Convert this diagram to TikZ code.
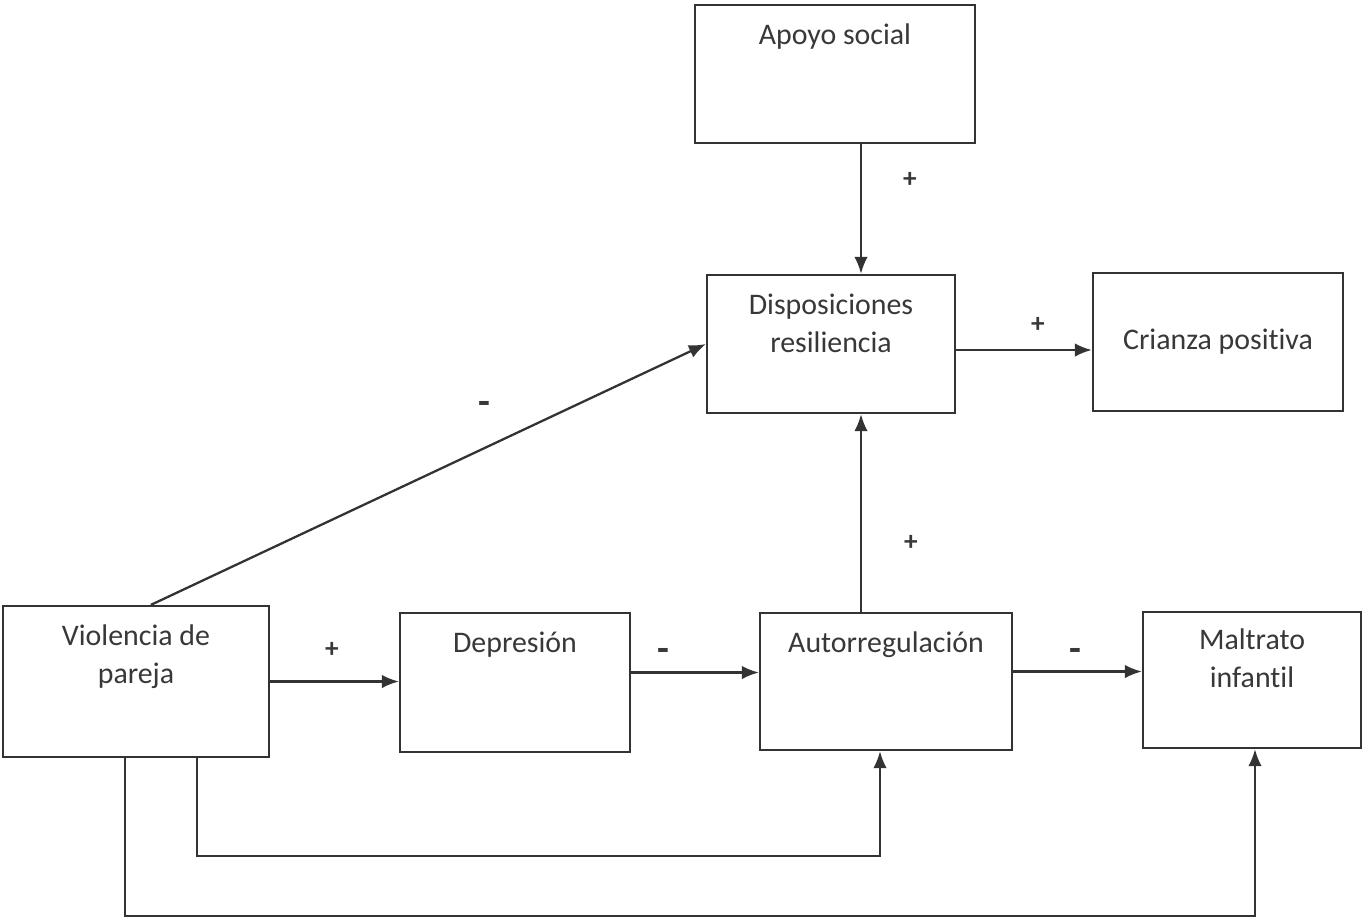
\documentclass[tikz,border=0pt]{standalone}
\usepackage{fontspec}
\setmainfont{Carlito}[Ligatures=NoCommon]
\usetikzlibrary{arrows.meta,positioning}
\definecolor{inkline}{HTML}{333333}
\definecolor{inktext}{HTML}{383838}

\begin{document}
\begin{tikzpicture}[x=0.02cm, y=-0.02cm,
    every node/.style={font=\fontsize{17}{21.6}\selectfont, text=inktext},
    box/.style={draw=inkline, line width=1.3pt, rectangle, inner sep=0pt},
    boxtext/.style={inner sep=0pt, align=center},
    sign/.style={font=\bfseries\fontsize{15.5}{18}\selectfont},
    link/.style={draw=inkline, line width=1.3pt, -{Latex[length=3.4mm,width=2.7mm]}}]
    \useasboundingbox (0,0) rectangle (1363,921);

    % Boxes
    \node[box, minimum width=5.6cm, minimum height=2.76cm] (apoyo) at (835,74) {};
    \node[box, minimum width=4.96cm, minimum height=2.76cm] (disp) at (831,344) {};
    \node[box, minimum width=5cm, minimum height=2.76cm] (crianza) at (1218,342) {Crianza positiva};
    \node[box, minimum width=5.32cm, minimum height=3.02cm] (viol) at (136,681.5) {};
    \node[box, minimum width=4.6cm, minimum height=2.78cm] (dep) at (515,682.5) {};
    \node[box, minimum width=5.04cm, minimum height=2.74cm] (auto) at (886,681.5) {};
    \node[box, minimum width=4.36cm, minimum height=2.72cm] (maltrato) at (1252,680) {};

    % Texts at the top of the boxes
    \node[boxtext, below=0.4cm of apoyo.north] (apoyo-txt) {Apoyo social};
    \node[boxtext, below=0.4cm of disp.north] (disp-txt) {Disposiciones\\resiliencia};
    \node[boxtext, below=0.4cm of viol.north] (viol-txt) {Violencia de\\pareja};
    \node[boxtext, below=0.4cm of dep.north] (dep-txt) {Depresión};
    \node[boxtext, below=0.4cm of auto.north] (auto-txt) {Autorregulación};
    \node[boxtext, below=0.36cm of maltrato.north] (maltrato-txt) {Maltrato\\infantil};

    % Connectors
    \draw[link] ([xshift=0.52cm]apoyo.south) -- ([xshift=0.52cm]apoyo.south |- disp.north);
    \draw[link] ([yshift=-0.12cm]disp.east) -- ([yshift=-0.12cm]disp.east -| crianza.west);
    \draw[link] (viol.north west) ++(149,0) -- (disp.west);
    \draw[link] (viol.east) -- (viol.east -| dep.west);
    \draw[link] ([yshift=0.2cm]dep.east) -- ([yshift=0.2cm]dep.east -| auto.west);
    \draw[link] ([xshift=-0.5cm]auto.north) -- ([xshift=-0.5cm]auto.north |- disp.south);
    \draw[link] ([yshift=0.2cm]auto.east) -- ([yshift=0.2cm]auto.east -| maltrato.west);
    \draw[link] ([xshift=1.22cm]viol.south) -- ++(0,98) -| ([xshift=-0.12cm]auto.south);
    \draw[link] ([xshift=-0.22cm]viol.south) -- ++(0,158) -| ([xshift=0.06cm]maltrato.south);

    % Signs
    \node[sign] (s-apoyo) at (910,180) {+};
    \node[sign] (s-crianza) at (1038,325) {+};
    \node[sign] (s-viol-disp) at (484,408) {\fontsize{22}{22}\selectfont -};
    \node[sign] (s-viol-dep) at (332,650) {+};
    \node[sign] (s-dep-auto) at (663,655) {\fontsize{22}{22}\selectfont -};
    \node[sign] (s-auto-disp) at (911,543) {+};
    \node[sign] (s-auto-mal) at (1075,655) {\fontsize{22}{22}\selectfont -};
\end{tikzpicture}
\end{document}
